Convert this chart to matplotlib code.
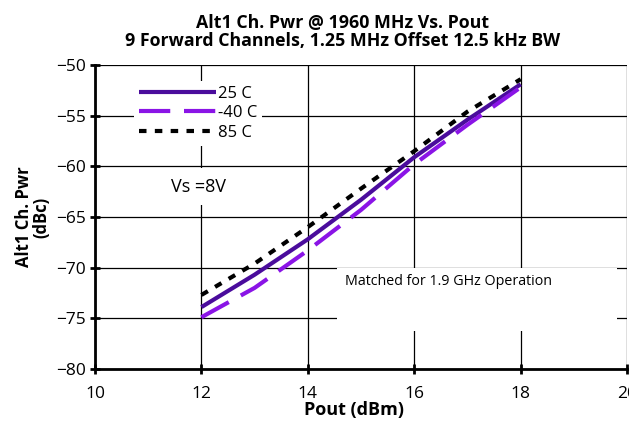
import matplotlib
matplotlib.use('Agg')
import matplotlib.pyplot as plt
from matplotlib.patches import Rectangle

plt.rcParams['font.family'] = ['Open Sans', 'DejaVu Sans']

# data
pout = [12, 13, 14, 15, 16, 17, 18]
pwr_25c = [-73.9, -70.7, -67.2, -63.3, -59.1, -55.4, -51.9]
pwr_m40c = [-74.9, -72.0, -68.3, -64.3, -59.8, -55.9, -52.2]
pwr_85c = [-72.7, -69.6, -66.0, -62.2, -58.5, -54.6, -51.4]

xticks = [10, 12, 14, 16, 18, 20]
yticks = [-80, -75, -70, -65, -60, -55, -50]

fig = plt.figure(figsize=(6.29, 4.25), dpi=100)
ax = fig.add_axes([0.151, 0.132, 0.846, 0.715])

ax.plot(pout, pwr_25c, color='#4a0c9c', lw=3, label='25 C', solid_capstyle='butt')
ax.plot(pout, pwr_m40c, color='#8a14e6', lw=3, dashes=(7.5, 3.3), label='-40 C')
ax.plot(pout, pwr_85c, color='black', lw=3, dashes=(1.8, 2.0), label='85 C')

ax.set_xlim(10, 20)
ax.set_ylim(-80, -50)
ax.set_xticks(xticks)
ax.set_yticks(yticks)
ax.set_axisbelow(True)
ax.grid(True, color='black', lw=0.9)

for s in ['top', 'right']:
    ax.spines[s].set_visible(False)
for s in ['left', 'bottom']:
    ax.spines[s].set_linewidth(2)
ax.tick_params(direction='inout', length=7, width=2, labelsize=12.5)
ax.tick_params(axis='x', pad=9)
ax.tick_params(axis='y', pad=3)

ax.set_xlabel('Pout (dBm)', fontsize=13, fontweight='bold', labelpad=-1, x=0.487)
ax.set_ylabel('Alt1 Ch. Pwr\n(dBc)', fontsize=12, fontweight='bold', labelpad=4, linespacing=1.0)
ax.set_title('Alt1 Ch. Pwr @ 1960 MHz Vs. Pout\n9 Forward Channels, 1.25 MHz Offset 12.5 kHz BW',
             fontsize=12.8, fontweight='bold', pad=14, x=0.465, linespacing=1.0)

leg = ax.legend(loc='upper left', bbox_to_anchor=(0.058, 0.975), frameon=True, fontsize=12,
                handlelength=4.6, handletextpad=0.1, labelspacing=0.2, borderpad=0.3)
leg.get_frame().set_edgecolor('none')
leg.get_frame().set_alpha(1)

ax.text(0.195, 0.6, 'Vs =8V', transform=ax.transAxes, fontsize=13, ha='center', va='center',
        bbox=dict(facecolor='white', edgecolor='none', pad=7))

ax.add_patch(Rectangle((0.455, 0.125), 0.526, 0.207, transform=ax.transAxes,
                       facecolor='white', edgecolor='none', zorder=2.5))
ax.text(0.664, 0.286, 'Matched for 1.9 GHz Operation', transform=ax.transAxes,
        fontsize=10.3, ha='center', va='center', zorder=3)

fig.savefig('out.png', dpi=100)
